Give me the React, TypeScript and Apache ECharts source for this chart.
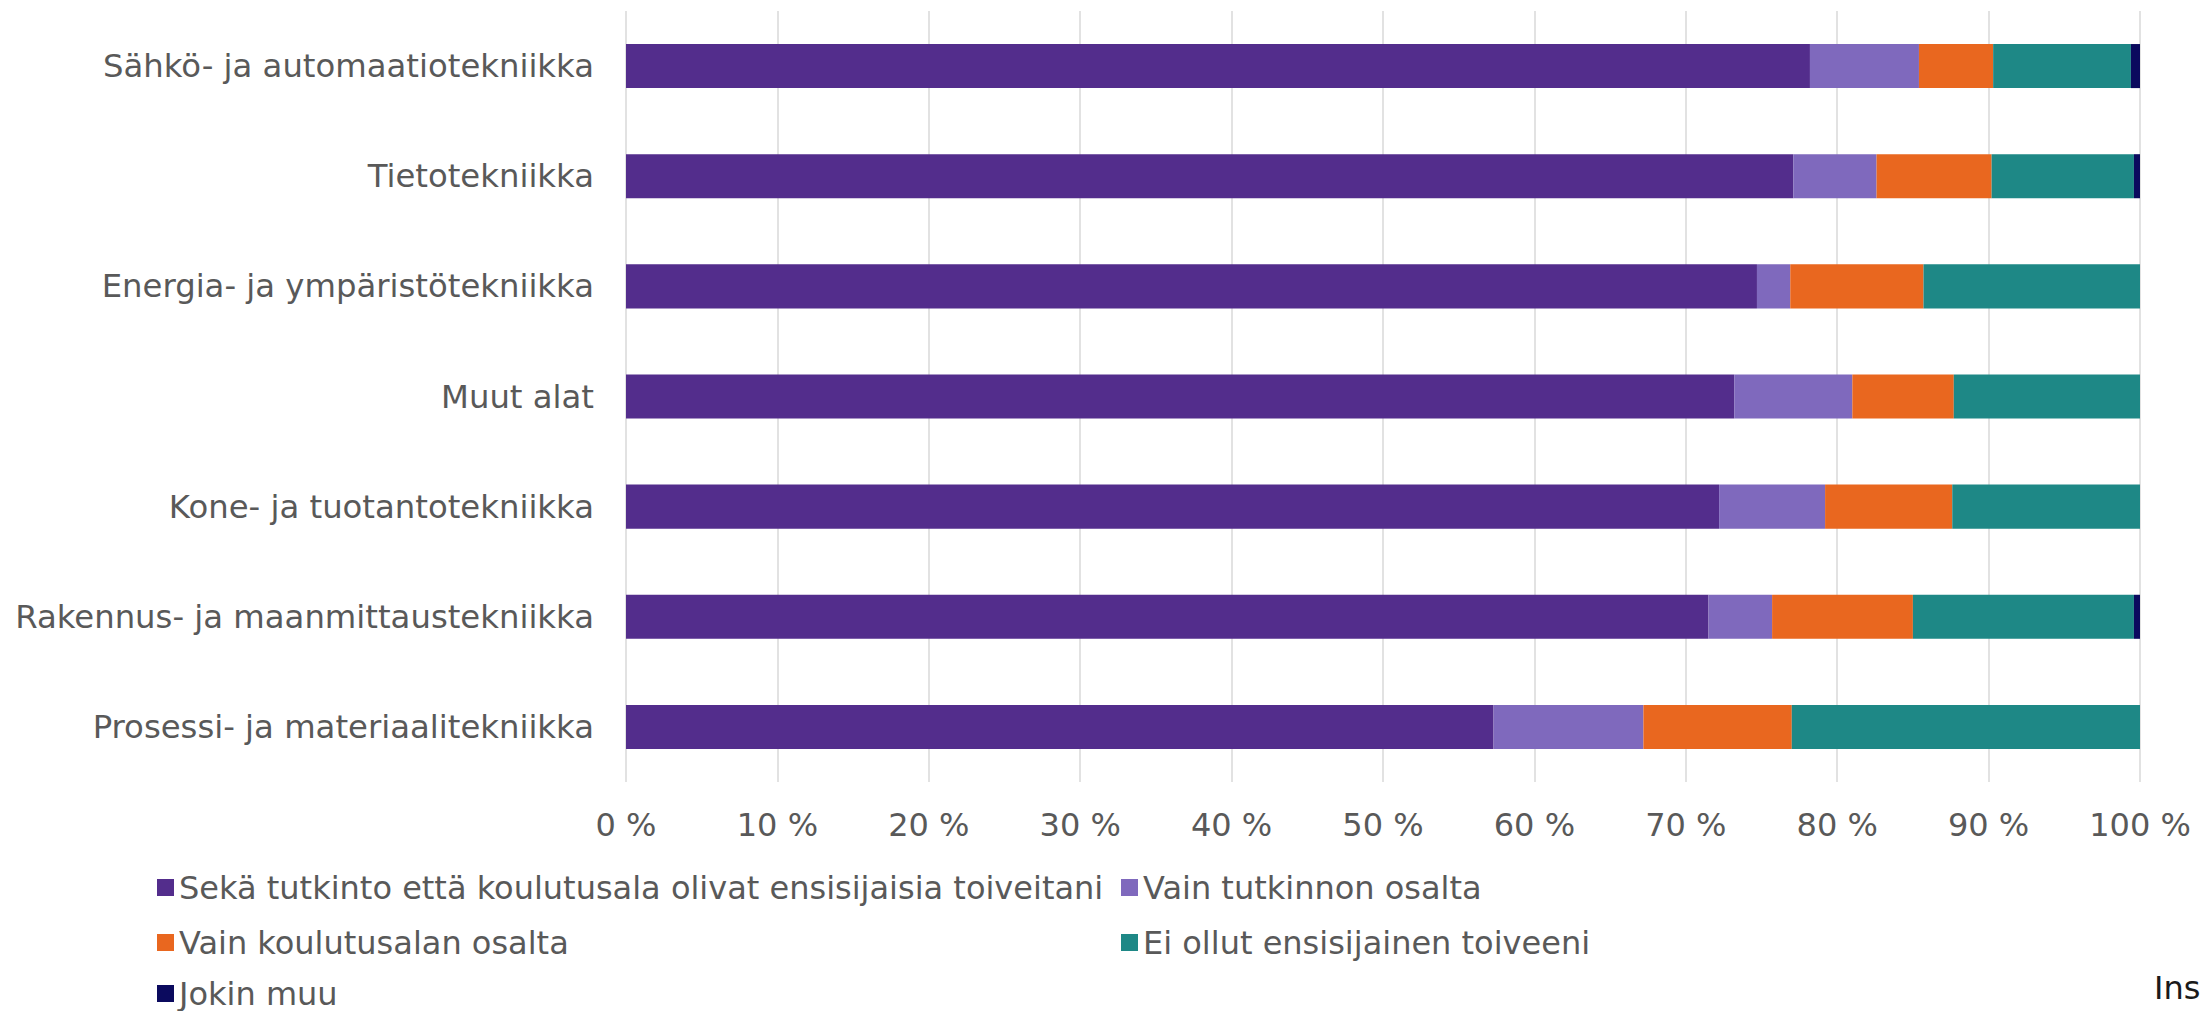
import React, { useEffect, useRef } from "react";
import * as echarts from "echarts";

const categories = [
  "Sähkö- ja automaatiotekniikka",
  "Tietotekniikka",
  "Energia- ja ympäristötekniikka",
  "Muut alat",
  "Kone- ja tuotantotekniikka",
  "Rakennus- ja maanmittaustekniikka",
  "Prosessi- ja materiaalitekniikka",
];

const seriesNames = [
  "Sekä tutkinto että koulutusala olivat ensisijaisia toiveitani",
  "Vain tutkinnon osalta",
  "Vain koulutusalan osalta",
  "Ei ollut ensisijainen toiveeni",
  "Jokin muu",
];

const bothFirst = [78.2, 77.1, 74.7, 73.2, 72.2, 71.5, 57.3];
const degreeOnly = [7.2, 5.5, 2.2, 7.8, 7.0, 4.2, 9.9];
const fieldOnly = [4.9, 7.6, 8.8, 6.7, 8.4, 9.3, 9.8];
const notFirst = [9.1, 9.4, 14.3, 12.3, 12.4, 14.6, 23.0];
const other = [0.6, 0.4, 0, 0, 0, 0.4, 0];

const seriesValues = [bothFirst, degreeOnly, fieldOnly, notFirst, other];
const colors = ["#532D8C", "#7F69BD", "#E9671F", "#1E8886", "#0B0A5E"];

const FONT = "'DejaVu Sans', Verdana, sans-serif";
const TEXT = "#595959";

// legend layout: [left, top] per series (items are 34px tall)
const legendPos = [
  [157, 871],
  [1121, 871],
  [157, 926],
  [1121, 926],
  [157, 977],
];

export default function App() {
  const ref = useRef<HTMLDivElement>(null);

  useEffect(() => {
    if (!ref.current) return;
    const chart = echarts.init(ref.current, undefined, { renderer: "svg" });
    const legendText = {
      fontSize: 32,
      color: TEXT,
      fontFamily: FONT,
      lineHeight: 33,
    };
    chart.setOption({
      animation: false,
      backgroundColor: "#ffffff",
      textStyle: { fontFamily: FONT },
      grid: { left: 626, right: 60, top: 11, height: 771, containLabel: false },
      xAxis: {
        type: "value",
        min: 0,
        max: 100,
        interval: 10,
        axisLine: { show: false },
        axisTick: { show: false },
        splitLine: { show: true, lineStyle: { color: "#D9D9D9", width: 1.5 } },
        axisLabel: {
          formatter: "{value} %",
          fontSize: 32,
          color: TEXT,
          fontFamily: FONT,
          margin: 27,
        },
      },
      yAxis: {
        type: "category",
        data: categories,
        inverse: true,
        axisLine: { show: false },
        axisTick: { show: false },
        splitLine: { show: false },
        axisLabel: {
          fontSize: 32.3,
          color: TEXT,
          fontFamily: FONT,
          margin: 32,
        },
      },
      legend: seriesNames.map((name, i) => ({
        orient: "horizontal",
        left: legendPos[i][0],
        top: legendPos[i][1],
        padding: 0,
        itemWidth: 17,
        itemHeight: 17,
        icon: "rect",
        textStyle: legendText,
        data: [name],
      })),
      graphic: [
        {
          type: "text",
          left: 2154,
          top: 972,
          style: {
            text: "Ins",
            fontSize: 32,
            fill: "#1a1a1a",
            fontFamily: FONT,
          },
        },
      ],
      series: seriesNames.map((name, i) => ({
        name,
        type: "bar",
        stack: "total",
        barWidth: "40%",
        itemStyle: { color: colors[i] },
        data: seriesValues[i],
      })),
    });
    return () => chart.dispose();
  }, []);

  return (
    <div
      ref={ref}
      style={{ position: "absolute", left: 0, top: 0, width: 2200, height: 1011 }}
    />
  );
}
